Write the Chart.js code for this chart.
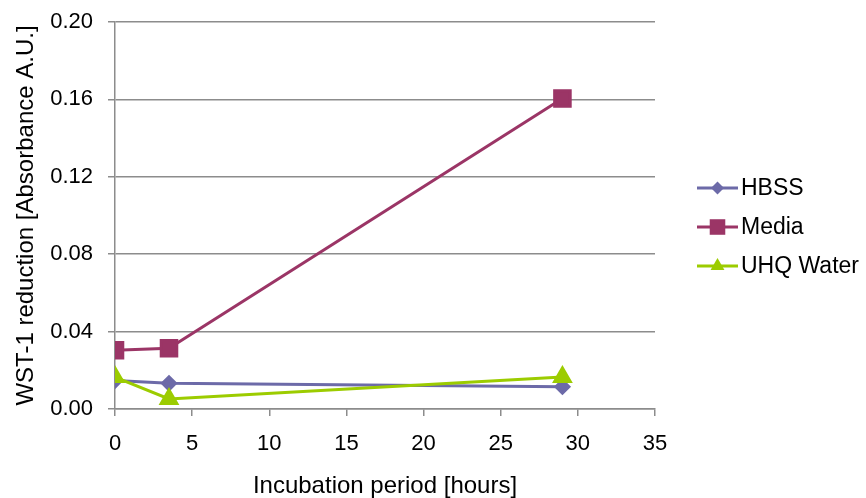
<!DOCTYPE html>
<html>
<head>
<meta charset="utf-8">
<script src="https://cdn.jsdelivr.net/npm/chart.js@4"></script>
<style>
  html, body { margin: 0; padding: 0; background: #fff; }
  #wrap { width: 866px; height: 498px; }
</style>
</head>
<body>
<div id="wrap"><canvas id="wst"></canvas></div>
<script>
  // incubation times (hours) and absorbance readings
  const hours = [0, 3.5, 29];
  const hbss = [0.0147, 0.0133, 0.0115];
  const media = [0.0304, 0.0314, 0.1605];
  const uhqWater = [0.0165, 0.0052, 0.0165];
  const yTicks = [0, 0.04, 0.08, 0.12, 0.16, 0.20];

  const font = "'Liberation Sans', Arial, Helvetica, sans-serif";
  const gridGray = '#8c8c8c';

  function points(values) {
    return hours.map(function(h, i) { return { x: h, y: values[i] }; });
  }

  // legend on the right: line sample with marker + label
  const sideLegend = {
    id: 'sideLegend',
    afterDraw: function(chart) {
      const ctx = chart.ctx;
      const x0 = 697, x1 = 738;
      const rows = [188, 227, 266];
      ctx.save();
      chart.data.datasets.forEach(function(ds, i) {
        const y = rows[i];
        ctx.strokeStyle = ds.borderColor;
        ctx.lineWidth = ds.borderWidth;
        ctx.beginPath();
        ctx.moveTo(x0, y);
        ctx.lineTo(x1, y);
        ctx.stroke();
        ctx.fillStyle = ds.pointBackgroundColor;
        Chart.helpers.drawPoint(ctx, {
          pointStyle: ds.pointStyle,
          radius: ds.legendRadius,
          rotation: 0,
          borderWidth: 0
        }, (x0 + x1) / 2, y);
        ctx.fillStyle = '#000';
        ctx.font = '23px ' + font;
        ctx.textBaseline = 'middle';
        ctx.fillText(ds.label, x1 + 3, y + 1);
      });
      ctx.restore();
    }
  };

  new Chart(document.getElementById('wst'), {
    type: 'line',
    data: {
      datasets: [
        {
          label: 'HBSS',
          data: points(hbss),
          borderColor: '#6c6aa8',
          backgroundColor: '#6c6aa8',
          pointBackgroundColor: '#6c6aa8',
          pointBorderColor: '#6c6aa8',
          borderWidth: 3,
          pointStyle: 'rectRot',
          pointRadius: 6.5,
          legendRadius: 6.5,
          order: 3
        },
        {
          label: 'Media',
          data: points(media),
          borderColor: '#9b3566',
          backgroundColor: '#9b3566',
          pointBackgroundColor: '#9b3566',
          pointBorderColor: '#9b3566',
          borderWidth: 3,
          pointStyle: 'rect',
          pointRadius: 11,
          legendRadius: 11,
          order: 1
        },
        {
          label: 'UHQ Water',
          data: points(uhqWater),
          borderColor: '#9ccc00',
          backgroundColor: '#9ccc00',
          pointBackgroundColor: '#9ccc00',
          pointBorderColor: '#9ccc00',
          borderWidth: 3,
          pointStyle: 'triangle',
          pointRadius: 9,
          legendRadius: 8,
          order: 2
        }
      ]
    },
    options: {
      responsive: true,
      maintainAspectRatio: false,
      animation: false,
      layout: { padding: { top: 22, right: 211, left: 0, bottom: 0 } },
      plugins: {
        legend: { display: false },
        tooltip: { enabled: false }
      },
      elements: { line: { tension: 0 }, point: { borderWidth: 0 } },
      scales: {
        x: {
          type: 'linear',
          min: 0,
          max: 35,
          ticks: { stepSize: 5, color: '#000', padding: 15, font: { family: font, size: 22 } },
          grid: { drawOnChartArea: false, color: gridGray, lineWidth: 1.5, tickLength: 7 },
          border: { color: gridGray, width: 1.5 },
          title: {
            display: true,
            text: 'Incubation period [hours]',
            color: '#000',
            padding: { top: 0, bottom: 0 },
            font: { family: font, size: 24, lineHeight: 1 }
          },
          afterFit: function(scale) {
            scale.height = 89;
            scale.paddingLeft = 0;
            scale.paddingRight = 0;
          }
        },
        y: {
          min: 0,
          max: 0.2,
          afterBuildTicks: function(scale) {
            scale.ticks = yTicks.map(function(v) { return { value: v }; });
          },
          ticks: {
            color: '#000',
            padding: 15,
            font: { family: font, size: 22 },
            callback: function(v) { return v.toFixed(2); }
          },
          grid: { color: gridGray, lineWidth: 1.5, tickLength: 7 },
          border: { color: gridGray, width: 1.5 },
          title: {
            display: true,
            text: 'WST-1 reduction [Absorbance A.U.]',
            color: '#000',
            padding: { top: 14, bottom: 0 },
            font: { family: font, size: 24, lineHeight: 1 }
          },
          afterFit: function(scale) {
            scale.width = 115;
            scale.paddingTop = 0;
            scale.paddingBottom = 0;
          }
        }
      }
    },
    plugins: [sideLegend]
  });
</script>
</body>
</html>
